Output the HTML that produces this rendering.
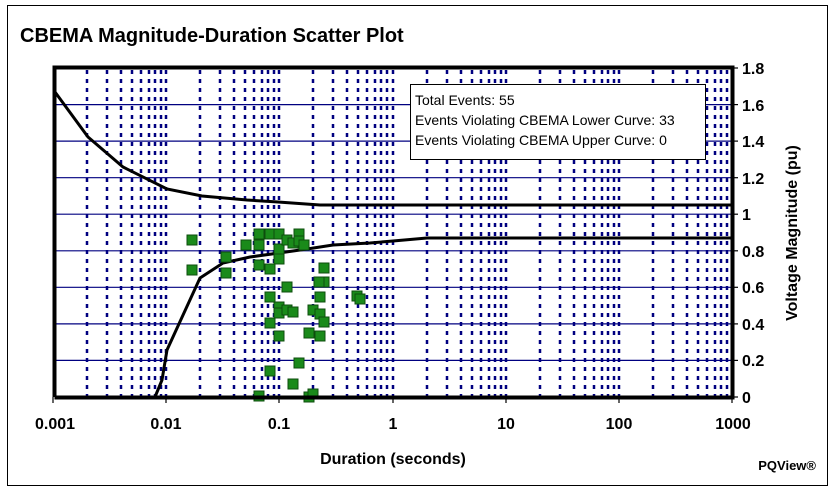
<!DOCTYPE html>
<html><head><meta charset="utf-8"><style>
body{margin:0;background:#fff;}
svg{display:block;font-family:"Liberation Sans",Arial,sans-serif;}
</style></head><body>
<svg width="835" height="495" viewBox="0 0 835 495" xmlns="http://www.w3.org/2000/svg">
<rect x="0" y="0" width="835" height="495" fill="#fff"/>
<rect x="7.5" y="5.5" width="820" height="480" fill="none" stroke="#000" stroke-width="1"/>
<text x="20" y="42" font-size="20" font-weight="bold">CBEMA Magnitude-Duration Scatter Plot</text>
<!-- horizontal grid -->
<g stroke="#000080" stroke-width="1.2">
<line x1="53" x2="732" y1="360.4" y2="360.4"/><line x1="53" x2="732" y1="323.9" y2="323.9"/>
<line x1="53" x2="732" y1="287.3" y2="287.3"/><line x1="53" x2="732" y1="250.8" y2="250.8"/>
<line x1="53" x2="732" y1="214.2" y2="214.2"/><line x1="53" x2="732" y1="177.7" y2="177.7"/>
<line x1="53" x2="732" y1="141.1" y2="141.1"/><line x1="53" x2="732" y1="104.6" y2="104.6"/>
</g>
<!-- vertical dotted grid -->
<path stroke="#000080" stroke-width="2.5" stroke-dasharray="4,5" fill="none" d="
M87 70V396M107 70V396M121 70V396M132 70V396M141 70V396M149 70V396M155 70V396M161 70V396M166 70V396
M200 70V396M220 70V396M234 70V396M245 70V396M254 70V396M262 70V396M268 70V396M274 70V396M279 70V396
M313 70V396M333 70V396M347 70V396M358 70V396M367 70V396M375 70V396M381 70V396M387 70V396M393 70V396
M427 70V396M447 70V396M461 70V396M472 70V396M481 70V396M489 70V396M495 70V396M501 70V396M506 70V396
M540 70V396M560 70V396M574 70V396M585 70V396M594 70V396M602 70V396M608 70V396M614 70V396M619 70V396
M653 70V396M673 70V396M687 70V396M698 70V396M707 70V396M715 70V396M721 70V396M727 70V396"/>
<!-- curves -->
<polyline fill="none" stroke="#000" stroke-width="3" points="55,92 88,137 123,167 167,189 202,196 247,200 278,202 320,205 732,205"/>
<polyline fill="none" stroke="#000" stroke-width="3" points="155,397 162,380 167,350 200,278 223,263 250,257 279,253 307,249 333,245 370,243 393,241 427,238 732,238"/>
<!-- points -->
<g fill="#1a8a1a" stroke="#0d4d0d" stroke-width="1">
<rect x="187" y="235" width="10" height="10"/><rect x="187" y="265" width="10" height="10"/>
<rect x="221" y="252" width="10" height="10"/><rect x="221" y="268" width="10" height="10"/>
<rect x="241" y="240" width="10" height="10"/><rect x="254" y="229" width="10" height="10"/>
<rect x="254" y="240" width="10" height="10"/><rect x="254" y="260" width="10" height="10"/>
<rect x="265" y="229" width="10" height="10"/><rect x="274" y="229" width="10" height="10"/>
<rect x="274" y="244" width="10" height="10"/><rect x="274" y="254" width="10" height="10"/>
<rect x="265" y="264" width="10" height="10"/><rect x="282" y="235" width="10" height="10"/>
<rect x="288" y="238" width="10" height="10"/><rect x="294" y="229" width="10" height="10"/>
<rect x="294" y="236" width="10" height="10"/><rect x="299" y="240" width="10" height="10"/>
<rect x="282" y="282" width="10" height="10"/><rect x="265" y="292" width="10" height="10"/>
<rect x="274" y="302" width="10" height="10"/><rect x="274" y="308" width="10" height="10"/>
<rect x="282" y="305" width="10" height="10"/><rect x="288" y="307" width="10" height="10"/>
<rect x="265" y="318" width="10" height="10"/><rect x="274" y="331" width="10" height="10"/>
<rect x="319" y="263" width="10" height="10"/><rect x="319" y="277" width="10" height="10"/>
<rect x="314" y="277" width="10" height="10"/><rect x="315" y="292" width="10" height="10"/>
<rect x="308" y="305" width="10" height="10"/><rect x="315" y="309" width="10" height="10"/>
<rect x="319" y="317" width="10" height="10"/><rect x="304" y="328" width="10" height="10"/>
<rect x="315" y="331" width="10" height="10"/><rect x="352" y="291" width="10" height="10"/>
<rect x="355" y="294" width="10" height="10"/><rect x="294" y="358" width="10" height="10"/>
<rect x="265" y="366" width="10" height="10"/><rect x="288" y="379" width="10" height="10"/>
<rect x="254" y="391" width="10" height="10"/><rect x="304" y="392" width="10" height="10"/>
<rect x="308" y="389" width="10" height="10"/>
</g>
<!-- plot border -->
<path d="M54.5 397V67.5H732.5V397.5H54.5" fill="none" stroke="#000" stroke-width="4"/>
<!-- x ticks -->
<g stroke="#000" stroke-width="1.2">
<line x1="53" x2="53" y1="397" y2="403"/><line x1="166" x2="166" y1="397" y2="403"/>
<line x1="279" x2="279" y1="397" y2="403"/><line x1="393" x2="393" y1="397" y2="403"/>
<line x1="506" x2="506" y1="397" y2="403"/><line x1="619" x2="619" y1="397" y2="403"/>
<line x1="732" x2="732" y1="397" y2="403"/>
<line x1="732" x2="738" y1="397" y2="397"/><line x1="732" x2="738" y1="360.4" y2="360.4"/>
<line x1="732" x2="738" y1="323.9" y2="323.9"/><line x1="732" x2="738" y1="287.3" y2="287.3"/>
<line x1="732" x2="738" y1="250.8" y2="250.8"/><line x1="732" x2="738" y1="214.2" y2="214.2"/>
<line x1="732" x2="738" y1="177.7" y2="177.7"/><line x1="732" x2="738" y1="141.1" y2="141.1"/>
<line x1="732" x2="738" y1="104.6" y2="104.6"/><line x1="732" x2="738" y1="68" y2="68"/>
</g>
<g font-size="16" font-weight="bold" text-anchor="middle">
<text x="55" y="429">0.001</text><text x="166" y="429">0.01</text><text x="279" y="429">0.1</text>
<text x="393" y="429">1</text><text x="506" y="429">10</text><text x="619" y="429">100</text>
<text x="733" y="429">1000</text>
</g>
<g font-size="16" font-weight="bold" text-anchor="start">
<text x="742" y="403">0</text><text x="742" y="366">0.2</text><text x="742" y="330">0.4</text>
<text x="742" y="293">0.6</text><text x="742" y="257">0.8</text><text x="742" y="220">1</text>
<text x="742" y="184">1.2</text><text x="742" y="147">1.4</text><text x="742" y="111">1.6</text>
<text x="742" y="74">1.8</text>
</g>
<text x="393" y="464" font-size="16" font-weight="bold" text-anchor="middle">Duration (seconds)</text>
<text transform="translate(797,233) rotate(-90)" font-size="16" font-weight="bold" text-anchor="middle">Voltage Magnitude (pu)</text>
<text x="816" y="470" font-size="13" font-weight="bold" text-anchor="end">PQView®</text>
<!-- info box -->
<rect x="410.5" y="84.5" width="295" height="75" fill="#fff" stroke="#000" stroke-width="1"/>
<g font-size="14">
<text x="415" y="105">Total Events: 55</text>
<text x="415" y="125">Events Violating CBEMA Lower Curve: 33</text>
<text x="415" y="145">Events Violating CBEMA Upper Curve: 0</text>
</g>
</svg>
</body></html>
